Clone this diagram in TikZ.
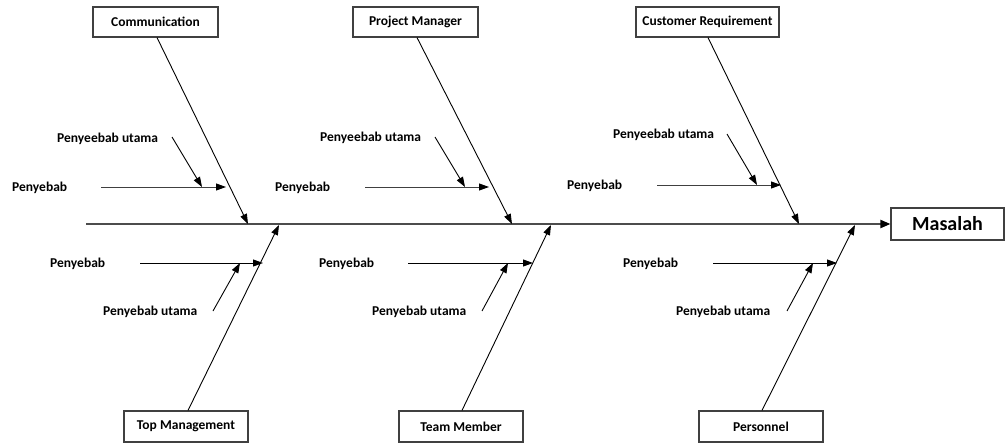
\documentclass[tikz,border=0pt]{standalone}
\usepackage{fontspec}
\setmainfont{Carlito}
\usetikzlibrary{arrows.meta}
\begin{document}
\begin{tikzpicture}[x=1pt,y=-1pt,
  catbox/.style={draw=black!75,line width=1.1pt,inner sep=0pt,font=\bfseries\fontsize{13.5}{15}\selectfont},
  lbl/.style={anchor=west,inner sep=0pt,yshift=-1pt,font=\bfseries\fontsize{13.5}{15}\selectfont},
  bone/.style={line width=0.9pt,-{Triangle[length=10pt,width=7pt]}},
  sub/.style={line width=0.9pt,-{Triangle[length=10pt,width=7pt]}},
  graysub/.style={draw=black!75,line width=0.9pt,-{Triangle[length=10pt,width=7pt,color=black]}},
  spine/.style={draw=black!70,line width=2pt,-{Triangle[length=10pt,width=8pt,color=black]}}]
\useasboundingbox (0,0) rectangle (1005,444);
% category boxes
\node[catbox,minimum width=125,minimum height=30] (comm) at (155.5,22) {Communication};
\node[catbox,minimum width=125,minimum height=30] (pm) at (415.5,22) {Project Manager};
\node[catbox,minimum width=143,minimum height=30] (cr) at (707.5,22) {Customer Requirement};
\node[catbox,minimum width=124,minimum height=31] (tm) at (186,426.5) {Top Management};
\node[catbox,minimum width=124,minimum height=31] (team) at (461,426.5) {Team Member};
\node[catbox,minimum width=124,minimum height=31] (pers) at (761,426.5) {Personnel};
\node[catbox,minimum width=113,minimum height=32,font=\bfseries\fontsize{20}{22}\selectfont] (mas) at (947.5,224) {Masalah};
% spine
\coordinate (s0) at (86,224);
\draw[spine] (s0) -- (mas.west);
% tips on spine
\coordinate (t1) at (248,224);
\coordinate (t2) at (512,224);
\coordinate (t3) at (799,224);
\coordinate (b1) at (279,225);
\coordinate (b2) at (551,225);
\coordinate (b3) at (855,225);
\draw[bone] ([xshift=1.5]comm.south) -- (t1);
\draw[bone] ([xshift=1.5]pm.south) -- (t2);
\draw[bone] ([xshift=0.5]cr.south) -- (t3);
\draw[bone] ([xshift=2]tm.north) -- (b1);
\draw[bone] ([xshift=1]team.north) -- (b2);
\draw[bone] ([xshift=1]pers.north) -- (b3);
% labels upper
\node[lbl] (u1) at (57,138) {Penyeebab utama};
\node[lbl] (u2) at (320,137) {Penyeebab utama};
\node[lbl] (u3) at (613,134) {Penyeebab utama};
\node[lbl] (p1) at (12,187) {Penyebab};
\node[lbl] (p2) at (275,187) {Penyebab};
\node[lbl] (p3) at (567,185) {Penyebab};
% labels lower
\node[lbl] (q1) at (50,263) {Penyebab};
\node[lbl] (q2) at (319,263) {Penyebab};
\node[lbl] (q3) at (623,263) {Penyebab};
\node[lbl] (v1) at (103,311) {Penyebab utama};
\node[lbl] (v2) at (372,311) {Penyebab utama};
\node[lbl] (v3) at (676,311) {Penyebab utama};
% sub-arrow coordinates, upper
\coordinate (ua1) at (172,137); \coordinate (ub1) at (202,187);
\coordinate (ua2) at (435,137); \coordinate (ub2) at (465,187);
\coordinate (ua3) at (727,134); \coordinate (ub3) at (757,185);
\coordinate (pa1) at (101,187); \coordinate (pb1) at (226,187);
\coordinate (pa2) at (365,187); \coordinate (pb2) at (489,187);
\coordinate (pa3) at (657,185); \coordinate (pb3) at (781,185);
\draw[graysub] (pa1) -- (pb1);
\draw[graysub] (pa2) -- (pb2);
\draw[graysub] (pa3) -- (pb3);
\draw[sub] (ua1) -- (ub1);
\draw[sub] (ua2) -- (ub2);
\draw[sub] (ua3) -- (ub3);
% sub-arrow coordinates, lower
\coordinate (qa1) at (140,263); \coordinate (qb1) at (263,263);
\coordinate (qa2) at (408,263); \coordinate (qb2) at (533,263);
\coordinate (qa3) at (713,263); \coordinate (qb3) at (837,263);
\coordinate (va1) at (213,311); \coordinate (vb1) at (240,263);
\coordinate (va2) at (482,311); \coordinate (vb2) at (508,263);
\coordinate (va3) at (787,311); \coordinate (vb3) at (813,263);
\draw[sub] (qa1) -- (qb1);
\draw[sub] (qa2) -- (qb2);
\draw[sub] (qa3) -- (qb3);
\draw[sub] (va1) -- (vb1);
\draw[sub] (va2) -- (vb2);
\draw[sub] (va3) -- (vb3);
\end{tikzpicture}
\end{document}
